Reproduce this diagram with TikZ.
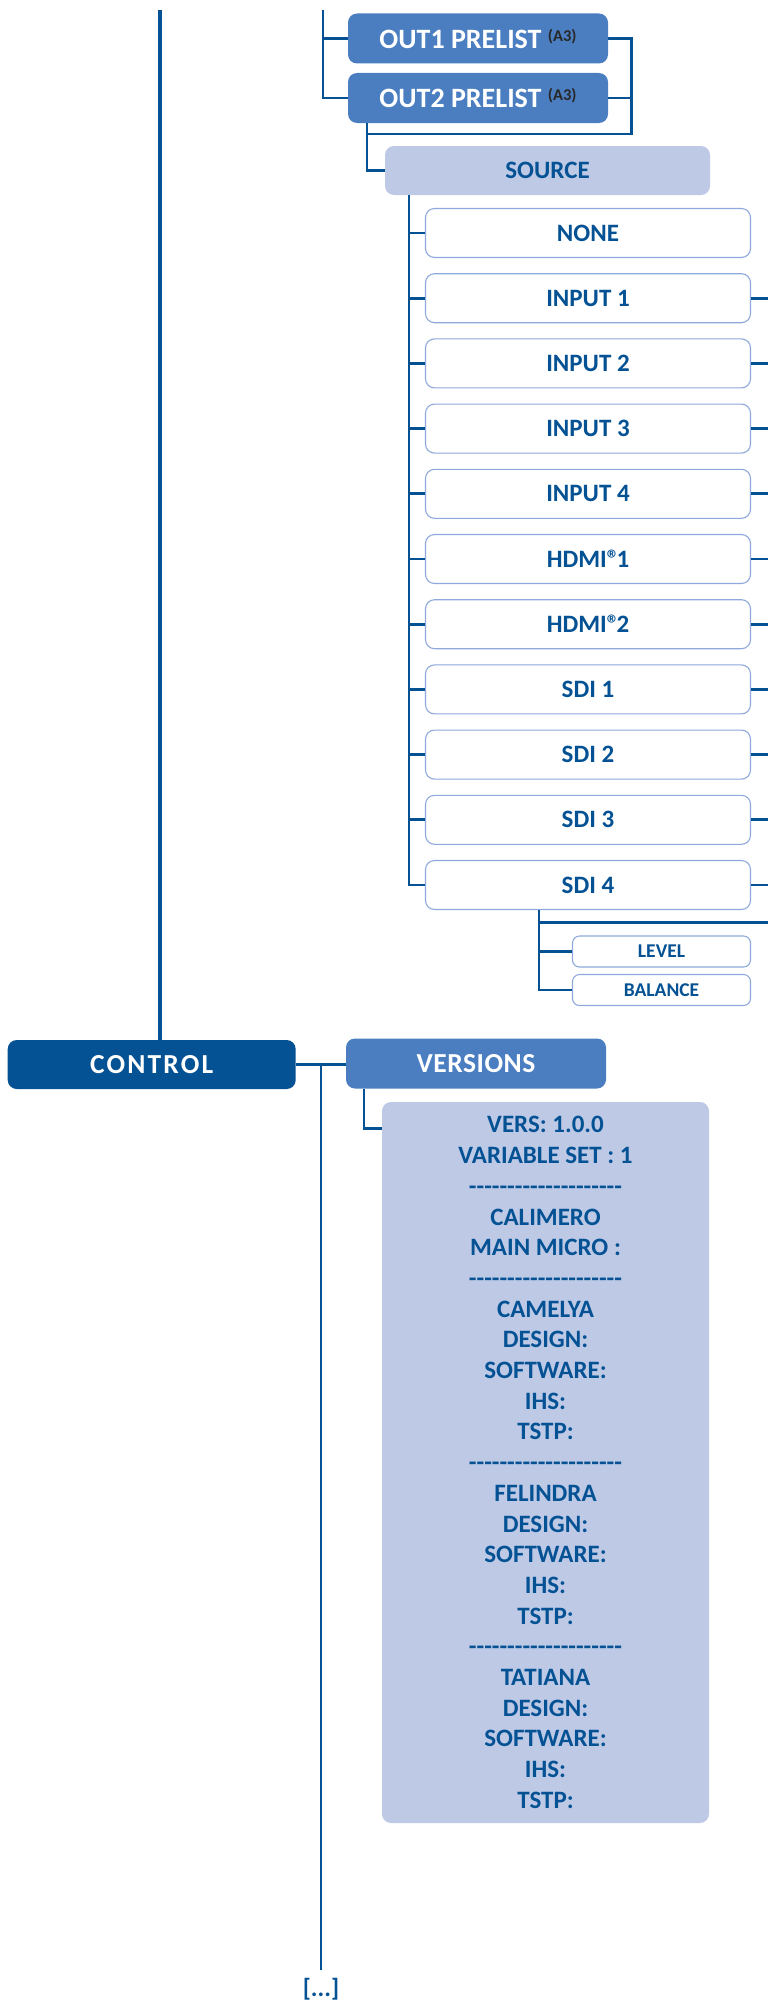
\documentclass[tikz,border=0pt]{standalone}
\usepackage{fontspec}
\setmainfont{Carlito}
\definecolor{dkblue}{RGB}{4,82,148}
\definecolor{midblue}{RGB}{74,126,193}
\definecolor{ltblue}{RGB}{190,201,230}
\definecolor{outl}{RGB}{142,169,219}
\definecolor{supgray}{RGB}{40,40,40}
\newcommand\hy{-\kern0pt}
\newcommand\dashrow{\hy\hy\hy\hy\hy\hy\hy\hy\hy\hy\hy\hy\hy\hy\hy\hy\hy\hy\hy\hy}
\newcommand\athree{{\fontsize{16.5}{17}\selectfont\color{supgray}\raisebox{7pt}{(A3)}}}
\begin{document}
\begin{tikzpicture}[x=1pt,y=-1pt,
  box/.style={rounded corners=9pt, inner sep=0pt, align=center, text=dkblue,
    font=\bfseries\fontsize{25}{28}\selectfont},
  ctrlbox/.style={box, fill=dkblue, text=white, minimum width=288pt, minimum height=49pt,
    font=\bfseries\fontsize{27.5}{30}\selectfont\addfontfeatures{LetterSpace=8}},
  menubox/.style={box, fill=midblue, text=white, minimum width=260pt, minimum height=50pt,
    font=\bfseries\fontsize{28}{30}\selectfont},
  verbox/.style={menubox, font=\bfseries\fontsize{27.5}{30}\selectfont\addfontfeatures{LetterSpace=2}},
  srcbox/.style={box, fill=ltblue, minimum width=325pt, minimum height=49pt},
  optbox/.style={box, draw=outl, line width=1.1pt, fill=white, minimum width=325pt, minimum height=49pt},
  subbox/.style={box, draw=outl, line width=1.1pt, fill=white, rounded corners=7pt,
    minimum width=178pt, minimum height=31pt, font=\bfseries\fontsize{19.5}{21}\selectfont},
  panel/.style={box, fill=ltblue, minimum width=327pt, minimum height=721pt,
    font=\bfseries\fontsize{25}{30.7}\selectfont},
  conn/.style={draw=dkblue, line width=2.8pt},
  trunk/.style={draw=dkblue, line width=4.4pt}
]
\useasboundingbox (0,0) rectangle (768,2002);

% top level menus
\node[menubox] (out1) at (478,38.5) {OUT1 PRELIST \athree};
\node[menubox] (out2) at (478,98) {OUT2 PRELIST \athree};
\node[srcbox] (source) at (547.5,170.5) {SOURCE};

% source options
\node[optbox] (none) at (588,233) {NONE};
\node[optbox] (in1) at (588,298.2) {INPUT 1};
\node[optbox] (in2) at (588,363.4) {INPUT 2};
\node[optbox] (in3) at (588,428.6) {INPUT 3};
\node[optbox] (in4) at (588,493.8) {INPUT 4};
\node[optbox] (hd1) at (588,559) {HDMI®\kern-3pt1};
\node[optbox] (hd2) at (588,624.2) {HDMI®\kern-3pt2};
\node[optbox] (sd1) at (588,689.4) {SDI 1};
\node[optbox] (sd2) at (588,754.6) {SDI 2};
\node[optbox] (sd3) at (588,819.8) {SDI 3};
\node[optbox] (sd4) at (588,885) {SDI 4};
\node[subbox] (level) at (661.5,951.5) {LEVEL};
\node[subbox] (balance) at (661.5,990) {BALANCE};

% control
\node[ctrlbox] (ctrl) at (151.7,1064.5) {CONTROL};
\node[verbox] (versions) at (476,1063.5) {VERSIONS};
\node[panel] (info) at (545.5,1462.5) {VERS: 1.0.0\\VARIABLE SET : 1\\\dashrow\\CALIMERO\\MAIN MICRO :\\\dashrow\\CAMELYA\\DESIGN:\\SOFTWARE:\\IHS:\\TSTP:\\\dashrow\\FELINDRA\\DESIGN:\\SOFTWARE:\\IHS:\\TSTP:\\\dashrow\\TATIANA\\DESIGN:\\SOFTWARE:\\IHS:\\TSTP:};
\node[box, font=\bfseries\fontsize{25}{26}\selectfont] (more) at (321,1989.5) {[...]};

% coordinates
\coordinate (topL) at (160,10);
\coordinate (topM) at (323,10);
\coordinate (j1) at (367,134);
\coordinate (s0) at (409,195);
\coordinate (d0) at (539,910);
\coordinate (r0) at (768,922.7);
\coordinate (c0) at (321,1970);
\coordinate (v0) at (364,1089);

% trunk
\draw[trunk] (topL) -- (topL |- ctrl.north);

% prelists
\draw[conn] (topM) |- (out2.west);
\draw[conn] (topM |- out1.west) -- (out1.west);
\draw[conn] (out1.east) -- ++(23,0) |- (j1);
\draw[conn] (out2.east) -- ++(23,0);
\draw[conn] (j1 |- out2.south) |- (source.west);

% source tree
\draw[conn] (s0) |- (sd4.west);
\foreach \n in {none,in1,in2,in3,in4,hd1,hd2,sd1,sd2,sd3}
  \draw[conn] (s0 |- \n.west) -- (\n.west);
\foreach \n in {in1,in2,in3,in4,hd1,hd2,sd1,sd2,sd3,sd4}
  \draw[conn] (\n.east) -- (r0 |- \n.east);

% SDI 4 subtree
\draw[conn] (d0) |- (balance.west);
\draw[conn] (d0 |- level.west) -- (level.west);
\draw[conn] (d0 |- r0) -- (r0);

% control
\draw[conn] (ctrl.east) -- (ctrl.east -| versions.west);
\draw[conn] (c0 |- ctrl.east) -- (c0);
\draw[conn] (v0) |- ([yshift=-27pt]info.north west);
\end{tikzpicture}
\end{document}
